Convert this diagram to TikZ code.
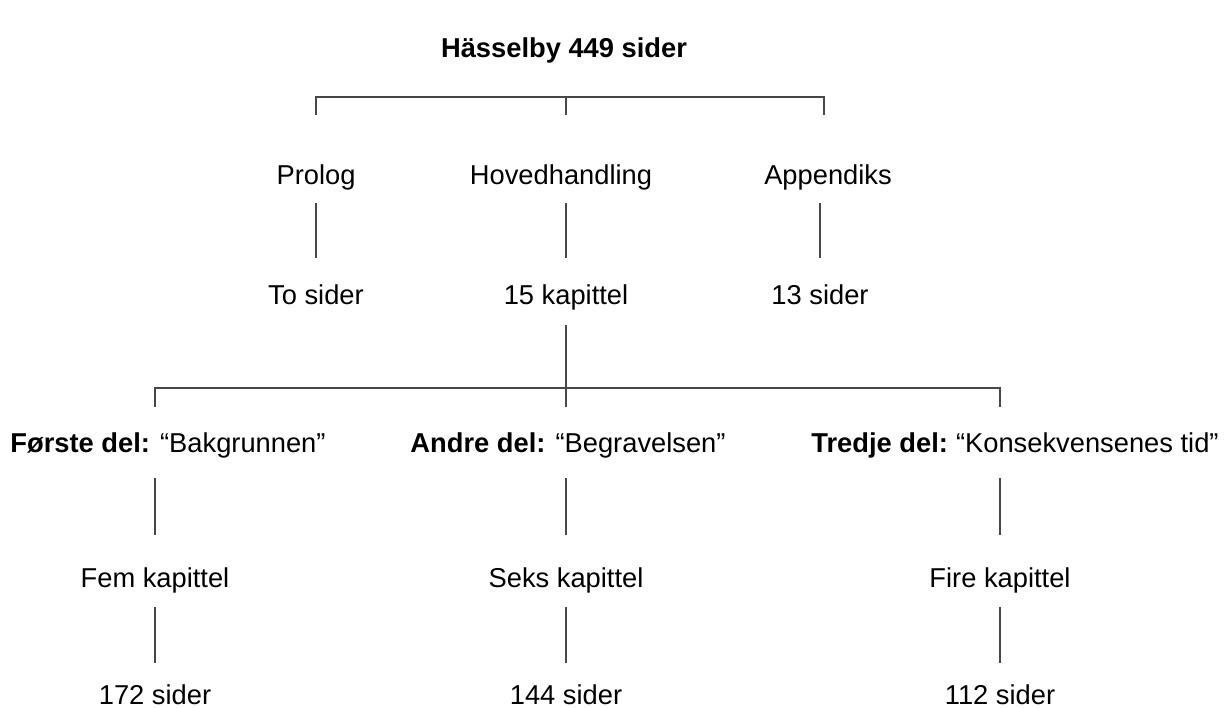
\documentclass[tikz,border=0pt]{standalone}
\usepackage{fontspec}
\setmainfont{Liberation Sans}

\begin{document}
\begin{tikzpicture}[x=1pt,y=-1pt]
\tikzset{every node/.style={inner sep=0pt,anchor=base,text height=20pt,text depth=6pt,font=\fontsize{27.3}{32}\selectfont}}
\tikzset{treeline/.style={draw=black!72,line width=1.4pt}}
\tikzset{lastrow/.style={text depth=0pt}}
\useasboundingbox (0,0) rectangle (1226,708);

\node (title) at (564,58) {\textbf{Hässelby 449 sider}};

\node (prolog) at (316,185) {Prolog};
\node (hoved) at (561,185) {Hovedhandling};
\node (appendiks) at (828,185) {Appendiks};
\node (tosider) at (316,305) {To sider};
\node (kap15) at (566,305) {15 kapittel};
\node (sider13) at (820,305) {13 sider};

\node (forste) at (168,452) {\textbf{Første del:} “Bakgrunnen”};
\node (andre) at (568,452) {\textbf{Andre del:} “Begravelsen”};
\node (tredje) at (1015,452) {\textbf{Tredje del:}\hspace{-2pt} “Konsekvensenes tid”};
\node (fem) at (155,587) {Fem kapittel};
\node (seks) at (566,587) {Seks kapittel};
\node (fire) at (1000,587) {Fire kapittel};
\node[lastrow] (sider172) at (155,704) {172 sider};
\node[lastrow] (sider144) at (566,704) {144 sider};
\node[lastrow] (sider112) at (1000,704) {112 sider};

\coordinate (topL) at (316,115);
\coordinate (topM) at (566,115);
\coordinate (topR) at (824,115);
\coordinate (midL) at (155,407);
\coordinate (midM) at (566,407);
\coordinate (midR) at (1000,407);

\draw[treeline] (topL) -- ++(0,-18) -| (topR);
\draw[treeline] (topM) -- ++(0,-18);
\draw[treeline] (midL) -- ++(0,-19) -| (midR);
\draw[treeline,shorten <=14pt] (kap15.south) -- (midM);

\draw[treeline,shorten <=12pt,shorten >=27pt] (tosider.north |- prolog.south) -- (tosider.north);
\draw[treeline,shorten <=12pt,shorten >=27pt] (kap15.north |- hoved.south) -- (kap15.north);
\draw[treeline,shorten <=12pt,shorten >=27pt] (sider13.north |- appendiks.south) -- (sider13.north);

\draw[treeline,shorten <=20pt,shorten >=32pt] (fem.north |- forste.south) -- (fem.north);
\draw[treeline,shorten <=20pt,shorten >=32pt] (seks.north |- andre.south) -- (seks.north);
\draw[treeline,shorten <=20pt,shorten >=32pt] (fire.north |- tredje.south) -- (fire.north);

\draw[treeline,shorten <=14pt,shorten >=21pt] (fem.south) -- (sider172.north);
\draw[treeline,shorten <=14pt,shorten >=21pt] (seks.south) -- (sider144.north);
\draw[treeline,shorten <=14pt,shorten >=21pt] (fire.south) -- (sider112.north);
\end{tikzpicture}
\end{document}
